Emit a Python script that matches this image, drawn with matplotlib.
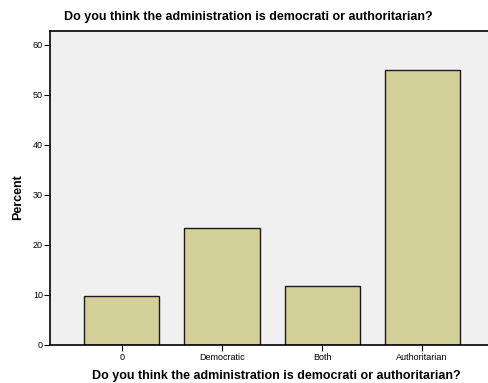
import matplotlib
matplotlib.use("Agg")
import matplotlib.pyplot as plt

categories = ["0", "Democratic", "Both", "Authoritarian"]
percent = [9.8, 23.5, 11.8, 55.0]
title = "Do you think the administration is democrati or authoritarian?"

plt.rcParams['font.family'] = ['Liberation Sans', 'DejaVu Sans']

fig = plt.figure(figsize=(4.89, 3.83), dpi=100)
ax = fig.add_axes([50 / 489, 38 / 383, 439 / 489, 314 / 383])
ax.set_facecolor("#f0f0f0")

x = list(range(len(categories)))
ax.bar(x, percent, width=0.75, color="#d3cf98", edgecolor="#1a1a1a", linewidth=1.0)

ax.set_xlim(-0.72, 3.67)
ax.set_ylim(0, 62.8)
ax.set_yticks([0, 10, 20, 30, 40, 50, 60])
ax.set_xticks(x)
ax.set_xticklabels(categories, fontsize=6.5)
ax.tick_params(axis="y", labelsize=6.5, length=4, width=0.8, pad=1)
ax.tick_params(axis="x", length=4, width=0.8, pad=2)

for side in ["top", "left", "bottom"]:
    ax.spines[side].set_linewidth(1.2)
ax.spines["right"].set_visible(False)

ax.set_ylabel("Percent", fontsize=9, fontweight="bold", va="center")
ax.yaxis.set_label_coords(-0.073, 0.471)
ax.set_xlabel(title, fontsize=9, fontweight="bold", va="center")
ax.xaxis.set_label_coords(0.515, -0.099)
fig.text(64 / 489, 1 - 17 / 383, title, fontsize=9, fontweight="bold", va="center", ha="left")

fig.savefig("out.png", dpi=100)
